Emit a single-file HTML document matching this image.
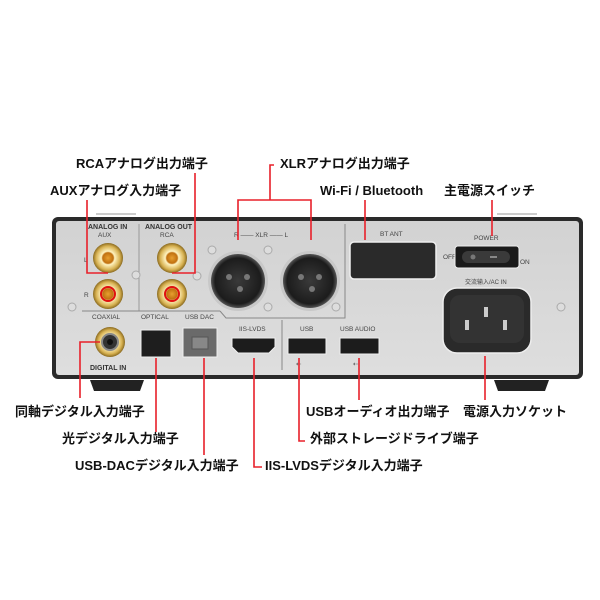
<!DOCTYPE html>
<html><head><meta charset="utf-8"><style>
html,body{margin:0;padding:0;background:#fff;width:600px;height:600px;overflow:hidden}
svg{display:block}
.l{font-family:"Liberation Sans","Noto Sans CJK JP",sans-serif;font-weight:bold;font-size:13px;fill:#111}
.s{font-family:"Liberation Sans",sans-serif;font-size:6.5px;fill:#444}
.sb{font-family:"Liberation Sans",sans-serif;font-size:7px;font-weight:bold;fill:#333}
</style></head><body>
<svg width="600" height="600" viewBox="0 0 600 600" xmlns="http://www.w3.org/2000/svg">
<defs>
<linearGradient id="pn" x1="0" y1="0" x2="0" y2="1"><stop offset="0" stop-color="#d2d2d2"/><stop offset="1" stop-color="#dedede"/></linearGradient>
<radialGradient id="gold"><stop offset="0" stop-color="#e8a030"/><stop offset="0.35" stop-color="#c07010"/><stop offset="0.45" stop-color="#fff3c0"/><stop offset="0.8" stop-color="#d6b050"/><stop offset="1" stop-color="#8a6a20"/></radialGradient>
<radialGradient id="xlr"><stop offset="0" stop-color="#3a3a3a"/><stop offset="0.85" stop-color="#1c1c1c"/><stop offset="1" stop-color="#555"/></radialGradient>
</defs>
<!-- feet -->
<path d="M90 380 L144 380 L140 391 L94 391Z" fill="#222"/>
<path d="M494 380 L549 380 L545 391 L498 391Z" fill="#222"/>
<!-- panel -->
<rect x="52" y="217" width="531" height="162" rx="6" fill="#2a2a2a"/>
<rect x="56" y="221" width="523" height="154" rx="3" fill="url(#pn)"/>
<rect x="96" y="213" width="40" height="2" fill="#ccc"/>
<rect x="497" y="213" width="40" height="2" fill="#ccc"/>
<!-- dividers -->
<line x1="139" y1="224" x2="139" y2="311" stroke="#999" stroke-width="1"/>
<line x1="82" y1="311" x2="220" y2="311" stroke="#888" stroke-width="1"/>
<path d="M220 311 L226 318 L345 318 L345 224" fill="none" stroke="#888" stroke-width="1"/>
<line x1="282" y1="320" x2="282" y2="370" stroke="#888" stroke-width="1"/>
<!-- text labels on panel -->
<text class="sb" x="88" y="229">ANALOG IN</text>
<text class="s" x="98" y="237">AUX</text>
<text class="sb" x="145" y="229">ANALOG OUT</text>
<text class="s" x="160" y="237">RCA</text>
<text class="s" x="84" y="262">L</text>
<text class="s" x="84" y="297">R</text>
<text class="s" x="234" y="237">R —— XLR —— L</text>
<text class="s" x="380" y="236">BT ANT</text>
<text class="s" x="474" y="240">POWER</text>
<text class="s" x="443" y="259">OFF</text>
<text class="s" x="520" y="264">ON</text>
<text class="s" x="465" y="284" style="font-size:6px">交流输入/AC IN</text>
<text class="s" x="92" y="319">COAXIAL</text>
<text class="s" x="141" y="319">OPTICAL</text>
<text class="s" x="185" y="319">USB DAC</text>
<text class="s" x="239" y="331">IIS-LVDS</text>
<text class="s" x="300" y="331">USB</text>
<text class="s" x="340" y="331">USB AUDIO</text>
<text class="sb" x="90" y="370">DIGITAL IN</text>
<text class="s" x="296" y="366">⇠</text><text class="s" x="353" y="366">⇠</text>
<!-- screws -->
<g fill="#ddd" stroke="#aaa"><circle cx="72" cy="307" r="4"/><circle cx="136" cy="275" r="4"/><circle cx="197" cy="276" r="4"/><circle cx="212" cy="250" r="4"/><circle cx="268" cy="250" r="4"/><circle cx="268" cy="307" r="4"/><circle cx="336" cy="307" r="4"/><circle cx="561" cy="307" r="4"/></g>
<!-- RCA -->
<g>
<circle cx="108" cy="258" r="15" fill="url(#gold)"/><circle cx="108" cy="294" r="15" fill="url(#gold)"/>
<circle cx="172" cy="258" r="15" fill="url(#gold)"/><circle cx="172" cy="294" r="15" fill="url(#gold)"/>
<circle cx="108" cy="294" r="7" fill="none" stroke="#e01010" stroke-width="2"/>
<circle cx="172" cy="294" r="7" fill="none" stroke="#e01010" stroke-width="2"/>
</g>
<!-- XLR -->
<circle cx="238" cy="281" r="30" fill="#c8c8c8"/><circle cx="238" cy="281" r="27" fill="url(#xlr)"/>
<circle cx="310" cy="281" r="30" fill="#c8c8c8"/><circle cx="310" cy="281" r="27" fill="url(#xlr)"/>
<g fill="#777"><circle cx="229" cy="277" r="3"/><circle cx="247" cy="277" r="3"/><circle cx="240" cy="289" r="3"/><circle cx="301" cy="277" r="3"/><circle cx="319" cy="277" r="3"/><circle cx="312" cy="289" r="3"/></g>
<!-- BT ANT -->
<rect x="350" y="242" width="86" height="37" rx="4" fill="#2a2a2a" stroke="#eee" stroke-width="1.5"/>
<!-- power switch -->
<rect x="455" y="246" width="64" height="22" rx="3" fill="#1a1a1a" stroke="#eee"/>
<rect x="462" y="251" width="48" height="12" rx="6" fill="#3a3a3a"/>
<circle cx="473" cy="257" r="2.5" fill="#777"/><rect x="490" y="256" width="7" height="2" fill="#888"/>
<!-- AC inlet -->
<rect x="443" y="288" width="88" height="65" rx="14" fill="#2a2a2a" stroke="#eee" stroke-width="1.5"/>
<rect x="450" y="295" width="74" height="48" rx="10" fill="#333"/>
<g fill="#ccc"><rect x="465" y="320" width="4" height="10"/><rect x="484" y="307" width="4" height="10"/><rect x="503" y="320" width="4" height="10"/></g>
<!-- coax -->
<circle cx="110" cy="342" r="15" fill="url(#gold)"/><circle cx="110" cy="342" r="8" fill="#333" stroke="#888" stroke-width="2"/><circle cx="110" cy="342" r="3" fill="#111"/>
<!-- optical -->
<rect x="141" y="330" width="30" height="27" fill="#1e1e1e" stroke="#eee"/>
<!-- usb dac -->
<rect x="183" y="328" width="34" height="29" fill="#6a6a6a" stroke="#eee"/>
<rect x="192" y="337" width="16" height="12" fill="#888" stroke="#555"/>
<!-- hdmi -->
<path d="M232 338 L275 338 L275 347 L269 353 L238 353 L232 347Z" fill="#1c1c1c" stroke="#eee"/>
<!-- usb -->
<rect x="288" y="338" width="38" height="16" fill="#1c1c1c" stroke="#eee"/>
<rect x="340" y="338" width="39" height="16" fill="#1c1c1c" stroke="#eee"/>
<!-- red leader lines -->
<g stroke="#e8202a" stroke-width="1.6" fill="none">
<path d="M195 173 V273 H172"/>
<path d="M87 200 V273 H108"/>
<path d="M274 165 H270 V200 M238 240 V200 H311 V240"/>
<path d="M365 200 V240"/>
<path d="M492 200 V236"/>
<path d="M100 342 H80 V398"/>
<path d="M156 358 V432"/>
<path d="M204 358 V455"/>
<path d="M254 358 V467 H262"/>
<path d="M299 358 V441 H305"/>
<path d="M359 358 V400"/>
<path d="M485 356 V400"/>
</g>
<!-- callout labels -->
<text class="l" x="76" y="168">RCAアナログ出力端子</text>
<text class="l" x="50" y="195">AUXアナログ入力端子</text>
<text class="l" x="280" y="168">XLRアナログ出力端子</text>
<text class="l" x="320" y="195">Wi-Fi / Bluetooth</text>
<text class="l" x="444" y="195">主電源スイッチ</text>
<text class="l" x="15" y="416">同軸デジタル入力端子</text>
<text class="l" x="62" y="443">光デジタル入力端子</text>
<text class="l" x="75" y="470">USB-DACデジタル入力端子</text>
<text class="l" x="265" y="470">IIS-LVDSデジタル入力端子</text>
<text class="l" x="306" y="416">USBオーディオ出力端子</text>
<text class="l" x="310" y="443">外部ストレージドライブ端子</text>
<text class="l" x="463" y="416">電源入力ソケット</text>
</svg>
</body></html>
